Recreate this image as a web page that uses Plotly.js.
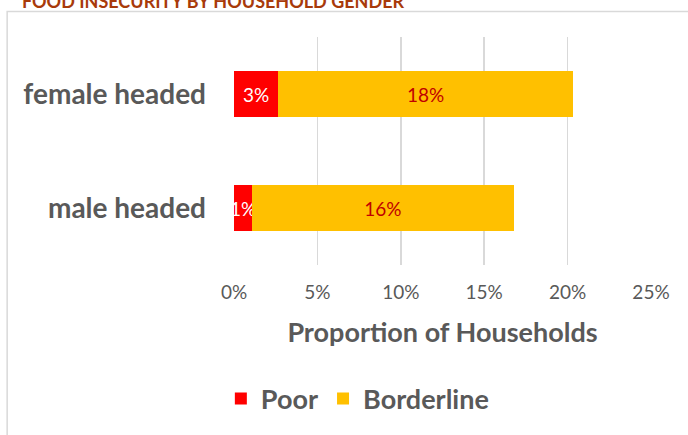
<!DOCTYPE html>
<html>
<head>
<meta charset="utf-8">
<script src="https://cdn.plot.ly/plotly-3.0.1.min.js"></script>
<style>
  html, body { margin: 0; padding: 0; background: #fff; }
  #chart { width: 688px; height: 435px; }
</style>
</head>
<body>
<div id="chart"></div>
<script>
// household types, bottom to top
const households = ['male headed', 'female headed'];
// share of households (fraction)
const poor = [0.0108, 0.0264];
const borderline = [0.157, 0.177];
const xTicks = [0, 0.05, 0.10, 0.15, 0.20, 0.25];

const FONT = 'Lato, "Open Sans", sans-serif';
const GREY = '#595959';

function barTrace(name, values, color, labelColor){
  return {
    type: 'bar',
    orientation: 'h',
    name: name,
    y: households,
    x: values,
    marker: {color: color},
    texttemplate: '%{x:.0%}',
    textposition: 'inside',
    insidetextanchor: 'middle',
    textangle: 0,
    constraintext: 'none',
    cliponaxis: false,
    textfont: {family: FONT, size: 19, color: labelColor},
    hoverinfo: 'skip'
  };
}

const data = [
  barTrace('Poor', poor, '#FF0000', '#FFFFFF'),
  barTrace('Borderline', borderline, '#FFC000', '#C00000')
];

const layout = {
  width: 688,
  height: 435,
  margin: {l: 234, r: 37, t: 37, b: 165},
  paper_bgcolor: '#FFFFFF',
  plot_bgcolor: '#FFFFFF',
  barmode: 'stack',
  bargap: 0.6,
  font: {family: FONT, color: GREY},
  showlegend: true,
  legend: {
    orientation: 'h',
    traceorder: 'normal',
    x: 0.297, xanchor: 'center',
    y: -0.587, yanchor: 'middle',
    font: {family: FONT, size: 27, color: GREY, weight: 'bold'},
    itemclick: false
  },
  xaxis: {
    range: [0, 0.25],
    tickvals: xTicks,
    tickformat: '.0%',
    showgrid: true,
    gridcolor: '#D9D9D9',
    gridwidth: 1.5,
    zeroline: false,
    showline: false,
    ticks: '',
    ticklabelstandoff: 14,
    tickfont: {family: FONT, size: 19, color: GREY},
    title: {
      text: 'Proportion of Households',
      standoff: 21,
      font: {family: FONT, size: 27, color: GREY, weight: 'bold'}
    },
    fixedrange: true
  },
  yaxis: {
    type: 'category',
    showgrid: false,
    zeroline: false,
    showline: false,
    ticks: '',
    ticklabelstandoff: 27,
    tickfont: {family: FONT, size: 28, color: GREY, weight: 'bold'},
    fixedrange: true
  },
  shapes: [{
    type: 'rect', xref: 'paper', yref: 'paper',
    x0: -0.544, x1: 1.2, y0: -0.9, y1: 1.1116,
    line: {color: '#D9D9D9', width: 1.5},
    layer: 'below'
  }],
  annotations: [{
    text: 'FOOD INSECURITY BY HOUSEHOLD GENDER',
    xref: 'paper', yref: 'paper',
    x: -0.513, xanchor: 'left',
    y: 1.158, yanchor: 'middle',
    showarrow: false,
    font: {family: FONT, size: 18, color: '#A83A0A', weight: 'bold'}
  }]
};

Plotly.newPlot('chart', data, layout, {displayModeBar: false, staticPlot: true});
</script>
</body>
</html>
